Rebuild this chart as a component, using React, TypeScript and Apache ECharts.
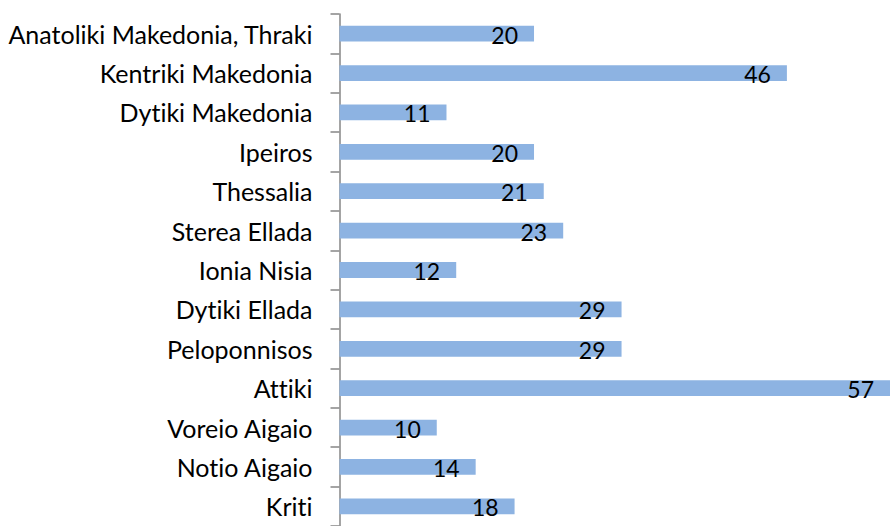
import React, { useEffect, useRef } from "react";
import * as echarts from "echarts";

const categories = [
  "Anatoliki Makedonia, Thraki",
  "Kentriki Makedonia",
  "Dytiki Makedonia",
  "Ipeiros",
  "Thessalia",
  "Sterea Ellada",
  "Ionia Nisia",
  "Dytiki Ellada",
  "Peloponnisos",
  "Attiki",
  "Voreio Aigaio",
  "Notio Aigaio",
  "Kriti",
];
const values = [20, 46, 11, 20, 21, 23, 12, 29, 29, 57, 10, 14, 18];

export default function App() {
  const ref = useRef<HTMLDivElement>(null);
  useEffect(() => {
    if (!ref.current) return;
    const chart = echarts.init(ref.current, null, { renderer: "svg" });
    chart.setOption({
      animation: false,
      grid: { left: 339.5, top: 14, right: 0, height: 517.4 },
      xAxis: {
        type: "value",
        min: 0,
        max: 56.6,
        show: false,
      },
      yAxis: {
        type: "category",
        data: categories,
        inverse: true,
        axisLine: { show: true, lineStyle: { color: "#868686", width: 1.5 } },
        axisTick: { show: true, length: 9, lineStyle: { color: "#868686", width: 1.5 } },
        axisLabel: {
          margin: 27,
          color: "#000",
          fontFamily: "Lato",
          fontSize: 25,
        },
        splitLine: { show: false },
      },
      series: [
        {
          type: "bar",
          data: values,
          barCategoryGap: "60%",
          itemStyle: { color: "#8DB3E2" },
          label: {
            show: true,
            position: "insideRight",
            distance: 16,
            offset: [0, 1],
            color: "#000",
            fontFamily: "Lato",
            fontSize: 23,
          },
        },
      ],
    });
    return () => chart.dispose();
  }, []);
  return (
    <div
      ref={ref}
      style={{
        width: 890,
        height: 526,
        position: "absolute",
        left: 0,
        top: 0,
        fontVariantLigatures: "none",
        fontFeatureSettings: '"liga" 0, "clig" 0',
      }}
    />
  );
}
